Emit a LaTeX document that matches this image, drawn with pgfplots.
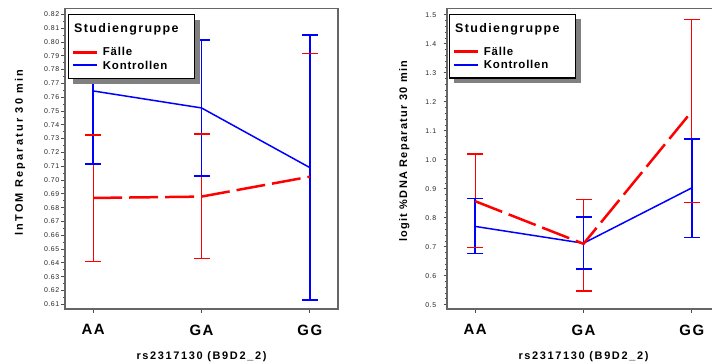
\documentclass[border=0pt]{standalone}
\usepackage{fontspec}
\setmainfont{Liberation Sans}
\newfontfamily\ylabfontL[LetterSpace=20]{Liberation Sans}
\newfontfamily\ylabfontR[LetterSpace=12]{Liberation Sans}
\newfontfamily\xtickfont[LetterSpace=10]{Liberation Sans}
\newfontfamily\xlabfont[LetterSpace=15]{Liberation Sans}
\newfontfamily\legtitlefont[LetterSpace=11]{Liberation Sans}
\newfontfamily\legfont[LetterSpace=7]{Liberation Sans}
\newfontfamily\tickfont[LetterSpace=8]{Liberation Sans}
\usepackage{pgfplots}
\pgfplotsset{compat=1.18}

\pgfplotsset{
  panel/.style={
    scale only axis, width=273bp, height=300.5bp,
    xmin=-0.26, xmax=2.26,
    xtick={0,1,2}, xticklabels={AA,GA,GG},
    axis line style={draw=black!60, line width=1.5bp},
    tick style={black!70, line width=0.8bp},
    tick align=outside,
    major tick length=3.5bp, minor tick length=2bp,
    xtick pos=lower, ytick pos=left,
    /pgf/number format/assume math mode=true,
    yticklabel style={font=\tickfont\fontsize{7}{8}\selectfont, text=black!85, inner sep=0pt, xshift=-2bp},
    xticklabel style={font=\xtickfont\bfseries\fontsize{15}{18}\selectfont, inner sep=0pt, anchor=north, yshift=-12bp},
    xlabel={rs2317130 (B9D2\_2)},
    xlabel style={font=\xlabfont\bfseries\fontsize{11}{13}\selectfont, at={(axis description cs:0.5,-0.158)}, anchor=center},
  },
  fcap/.style={red, only marks, mark=-, mark size=8bp, mark options={solid, red, line width=1.3bp}, forget plot},
  kcap/.style={blue, only marks, mark=-, mark size=8bp, mark options={solid, blue, line width=1.8bp}, forget plot},
  fline/.style={red, line width=2.5bp, dash pattern=on 29bp off 7bp},
  kline/.style={blue, line width=1.5bp},
}
% error bar body: colour, x left, x right, lower, upper
\newcommand\vbar[5]{\addplot[fill=#1, draw=none, forget plot] coordinates {(#2,#4) (#3,#4) (#3,#5) (#2,#5)};}

\newcommand\legendbox[2]{%
\begin{scope}[shift={(#1bp,-#2bp)}, x=1bp, y=-1bp]
 \fill[black!50] (5,5) rectangle (131.5,69);
 \filldraw[fill=white, draw=black, line width=1.2bp] (0,0) rectangle (126.5,63.6);
 \node[anchor=base west, inner sep=0pt] at (5.7,18) {\legtitlefont\bfseries\fontsize{12.5}{14}\selectfont Studiengruppe};
 \draw[red, line width=3bp] (5,37.6) -- (28.4,37.6);
 \node[anchor=base west, inner sep=0pt] at (34.4,41) {\legfont\bfseries\fontsize{11.5}{13}\selectfont Fälle};
 \draw[blue, line width=2bp] (5,50.6) -- (28.4,50.6);
 \node[anchor=base west, inner sep=0pt] at (34.4,54.3) {\legfont\bfseries\fontsize{11.5}{13}\selectfont Kontrollen};
\end{scope}}

\begin{document}
\begin{tikzpicture}
\begin{axis}[panel, at={(65bp,-309bp)}, anchor=south west,
  ymin=0.6066, ymax=0.8242, ytick distance=0.01, minor y tick num=1,
  yticklabel style={/pgf/number format/.cd, fixed, fixed zerofill, precision=2},
  ylabel={lnTOM Reparatur 30 min},
  ylabel style={font=\ylabfontL\bfseries\fontsize{11}{13}\selectfont, at={(axis description cs:-0.165,0.52)}, anchor=center},
]
% Faelle: error bars
\vbar{red}{-0.006}{0.006}{0.6412}{0.7326}
\vbar{red}{0.994}{1.006}{0.6433}{0.7333}
\vbar{red}{1.994}{2.006}{0.6129}{0.7918}
\addplot[fcap] coordinates {(0,0.6412) (0,0.7326) (1,0.6433) (1,0.7333) (2,0.6129) (2,0.7918)};
% Kontrollen: error bars
\vbar{blue}{-0.0083}{0.0083}{0.7114}{0.8176}
\vbar{blue}{0.9917}{1.0083}{0.7029}{0.8014}
\vbar{blue}{1.9917}{2.0083}{0.6133}{0.8050}
\addplot[kcap] coordinates {(0,0.7114) (0,0.8176) (1,0.7029) (1,0.8014) (2,0.6133) (2,0.8050)};
% means
\addplot[kline] coordinates {(0,0.7645) (1,0.7522) (2,0.7090)};
\addplot[fline] coordinates {(0,0.6870) (1,0.6880) (2,0.7024)};
\end{axis}
\begin{axis}[panel, at={(447bp,-309bp)}, anchor=south west,
  ymin=0.485, ymax=1.522, ytick distance=0.1, minor y tick num=4,
  yticklabel style={/pgf/number format/.cd, fixed, fixed zerofill, precision=1, /tikz/xshift=-5bp},
  ylabel={logit \%DNA Reparatur 30 min},
  ylabel style={font=\ylabfontR\bfseries\fontsize{11}{13}\selectfont, at={(axis description cs:-0.156,0.525)}, anchor=center},
]
\vbar{red}{-0.006}{0.006}{0.697}{1.020}
\vbar{red}{0.994}{1.006}{0.547}{0.862}
\vbar{red}{1.994}{2.006}{0.852}{1.483}
\addplot[fcap] coordinates {(0,0.697) (0,1.020) (1,0.547) (1,0.862) (2,0.852) (2,1.483)};
\vbar{blue}{-0.0074}{0.0074}{0.677}{0.866}
\vbar{blue}{0.9926}{1.0074}{0.624}{0.802}
\vbar{blue}{1.9926}{2.0074}{0.732}{1.072}
\addplot[kcap, mark options={line width=1.6bp}] coordinates {(0,0.677) (0,0.866) (1,0.624) (1,0.802) (2,0.732) (2,1.072)};
\addplot[kline] coordinates {(0,0.770) (1,0.712) (2,0.903)};
\addplot[fline] coordinates {(0,0.857) (1,0.710) (2,1.167)};
\end{axis}
\legendbox{68.3}{14.7}
\legendbox{449.3}{14.3}
\pgfresetboundingbox
\path (0bp,0bp) rectangle (712bp,-364bp);
\end{tikzpicture}
\end{document}
